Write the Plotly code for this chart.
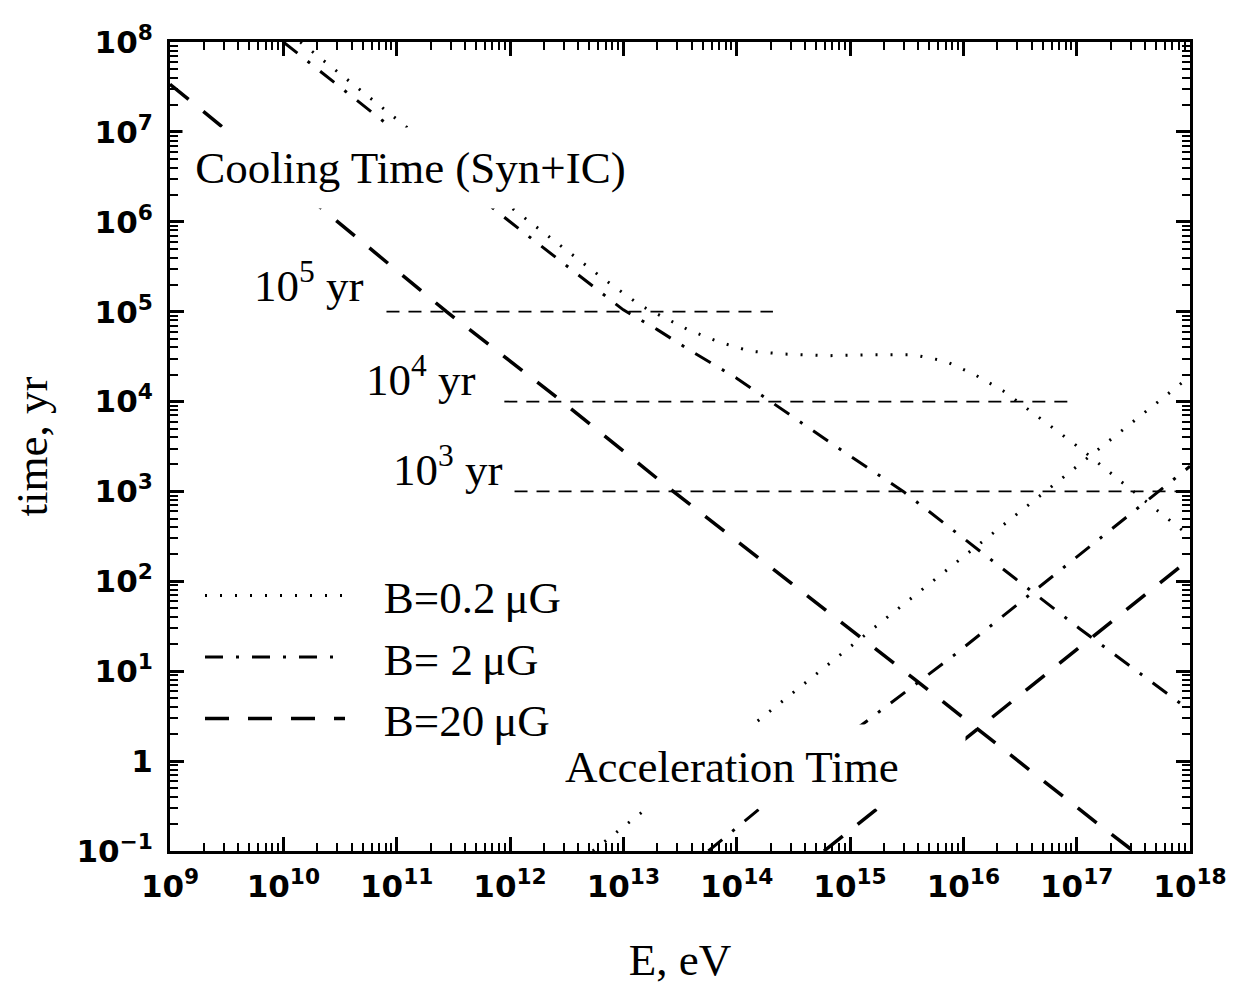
import numpy as np
import plotly.graph_objects as go

# ---- data (log10 values) ----
# Cooling time (Syn+IC)
cool_02_logE = [10.15, 11.12, 12.03, 12.82, 13.15, 13.57, 13.85, 14.12, 14.4, 14.8, 15.2, 15.56, 15.84, 16.10, 16.35, 16.59, 16.82, 17.05, 17.27, 17.50, 17.72, 18.0]
cool_02_logt = [8.0, 7.02, 6.14, 5.37, 5.07, 4.80, 4.66, 4.56, 4.53, 4.51, 4.52, 4.52, 4.45, 4.30, 4.12, 3.90, 3.68, 3.46, 3.23, 3.00, 2.78, 2.50]

cool_2_logE = [10.0, 12.0, 13.0, 13.3, 13.6, 14.0, 14.3, 14.9, 15.47, 16.32, 17.03, 17.96]
cool_2_logt = [8.0, 6.0, 5.02, 4.80, 4.56, 4.26, 4.0, 3.48, 3.0, 2.17, 1.47, 0.60]

cool_20_logE = [9.0, 10.0, 11.44, 12.46, 13.44, 15.56, 17.21, 17.5]
cool_20_logt = [7.53, 6.50, 5.0, 4.0, 3.0, 0.92, -0.72, -1.0]

# Acceleration time
acc_02_logE = [12.73, 14.14, 15.04, 16.72, 18.0]
acc_02_logt = [-1.0, 0.40, 1.31, 3.0, 4.28]

acc_2_logE = [13.75, 14.21, 15.09, 15.91, 17.72, 18.0]
acc_2_logt = [-1.0, -0.52, 0.39, 1.17, 3.0, 3.28]

acc_20_logE = [14.77, 16.0, 17.97, 18.0]
acc_20_logt = [-1.0, 0.23, 2.22, 2.25]

# Reference ages
ref_t = [1e5, 1e4, 1e3]
ref_E_start = [10.91, 11.95, 12.04]
ref_E_end = [14.32, 16.99, 18.0]
ref_labels = ["10<sup>5</sup> yr", "10<sup>4</sup> yr", "10<sup>3</sup> yr"]
ref_label_logE = [10.225, 11.215, 11.45]
ref_label_logt = [5.33, 4.28, 3.28]

legend_names = ["B=0.2\u2009\u03bcG", "B= 2\u2009\u03bcG", "B=20\u2009\u03bcG"]

x_tickvals = [10.0 ** k for k in range(9, 19)]
x_ticktext = ["10<sup>%d</sup>" % k for k in range(9, 19)]
y_tickvals = [10.0 ** k for k in range(-1, 9)]
y_ticktext = ["10<sup>\u22121</sup>", "1"] + ["10<sup>%d</sup>" % k for k in range(1, 9)]

# ---- styles ----
DOT = "2px,13px"
DASHDOT = "18px,13px,3px,13px"
DASH = "24px,19px"
SERIF = "Liberation Serif"
FS = 45
LEG_PAD = "\u2002\u2005"

styles = [
    dict(dash=DOT, width=3),
    dict(dash=DASHDOT, width=3),
    dict(dash=DASH, width=3.5),
]

fig = go.Figure()

cool = [(cool_02_logE, cool_02_logt), (cool_2_logE, cool_2_logt), (cool_20_logE, cool_20_logt)]
acc = [(acc_02_logE, acc_02_logt), (acc_2_logE, acc_2_logt), (acc_20_logE, acc_20_logt)]

for i, (le, lt) in enumerate(cool):
    fig.add_trace(go.Scatter(
        x=10 ** np.array(le), y=10 ** np.array(lt), mode="lines",
        line=dict(color="black", **styles[i]), name=LEG_PAD + legend_names[i],
        legendgroup=str(i), showlegend=True, hoverinfo="skip"))

for i, (le, lt) in enumerate(acc):
    fig.add_trace(go.Scatter(
        x=10 ** np.array(le), y=10 ** np.array(lt), mode="lines",
        line=dict(color="black", **styles[i]), name=legend_names[i],
        legendgroup=str(i), showlegend=False, hoverinfo="skip"))

for t, e0, e1 in zip(ref_t, ref_E_start, ref_E_end):
    fig.add_trace(go.Scatter(
        x=[10 ** e0, 10 ** e1], y=[t, t], mode="lines",
        line=dict(color="black", dash="13px,9px", width=1.8),
        showlegend=False, hoverinfo="skip"))

annotations = []
for txt, ex, ty in zip(ref_labels, ref_label_logE, ref_label_logt):
    annotations.append(dict(x=ex, y=ty, xref="x", yref="y", text=txt, showarrow=False,
                            font=dict(family=SERIF, size=FS, color="black")))

annotations.append(dict(x=11.12, y=6.60, xref="x", yref="y", text="Cooling Time (Syn+IC)",
                        showarrow=False, bgcolor="white", width=455, height=80, borderpad=0,
                        align="center", font=dict(family=SERIF, size=FS, color="black")))
annotations.append(dict(x=14.25, y=-0.057, xref="x", yref="y", text="Acceleration Time",
                        showarrow=False, bgcolor="white", width=400, height=83, borderpad=0,
                        align="left", font=dict(family=SERIF, size=FS, color="black")))

axis_common = dict(
    type="log", showline=True, linecolor="black", linewidth=3, mirror="allticks",
    ticks="inside", ticklen=14, tickwidth=2.5, tickcolor="black",
    showgrid=False, zeroline=False, tickmode="array",
    tickfont=dict(family="DejaVu Sans", size=31, color="black", weight="bold"),
    minor=dict(ticks="inside", ticklen=8, tickwidth=1.5, tickcolor="black", dtick="D1", showgrid=False),
)

fig.update_layout(
    width=1240, height=989,
    margin=dict(l=170, r=50, t=42, b=136),
    plot_bgcolor="white", paper_bgcolor="white",
    showlegend=True,
    legend=dict(x=0.0294, y=0.36, xanchor="left", yanchor="top", bgcolor="rgba(0,0,0,0)",
                itemwidth=140, font=dict(family=SERIF, size=FS, color="black"),
                tracegroupgap=0),
    annotations=annotations,
    xaxis=dict(range=[9, 18], tickvals=x_tickvals, ticktext=x_ticktext,
               title=dict(text="E, eV", font=dict(family=SERIF, size=FS, color="black"), standoff=41),
               ticklabelstandoff=6, **axis_common),
    yaxis=dict(range=[-1, 8], tickvals=y_tickvals, ticktext=y_ticktext,
               title=dict(text="time, yr", font=dict(family=SERIF, size=FS, color="black"), standoff=15),
               ticklabelstandoff=8, **axis_common),
)

fig.write_html("out.html")
